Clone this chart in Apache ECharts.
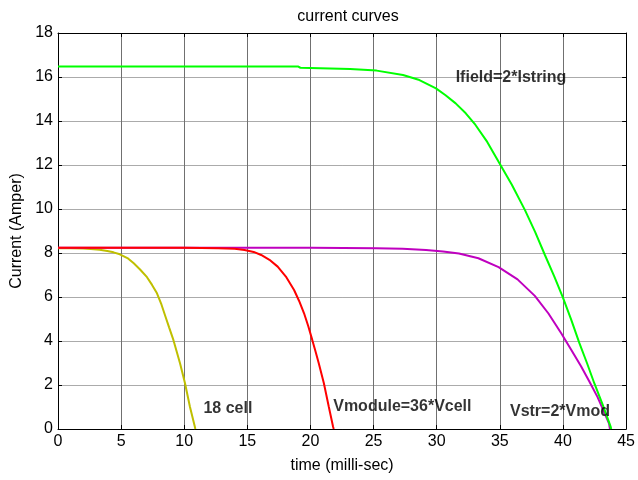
<!DOCTYPE html>
<html>
<head>
<meta charset="utf-8">
<script src="https://cdn.jsdelivr.net/npm/echarts@6/dist/echarts.min.js"></script>
<style>
html,body{margin:0;padding:0;background:#fff;}
#chart{width:638px;height:480px;}
</style>
</head>
<body>
<div id="chart"></div>
<script>
// ---- data ----
var xTicks = [0, 5, 10, 15, 20, 25, 30, 35, 40, 45];
var yTicks = [0, 2, 4, 6, 8, 10, 12, 14, 16, 18];

var cellX = [0, 1, 2, 2.6, 3.3, 3.9, 4.4, 4.9, 5.5, 6.0, 6.5, 7.05, 7.45, 7.84, 8.2, 8.49, 8.8, 9.14, 9.4, 9.67, 10.06, 10.45, 10.84, 10.88];
var cellY = [8.22, 8.22, 8.21, 8.18, 8.15, 8.09, 8.03, 7.94, 7.77, 7.53, 7.25, 6.9, 6.55, 6.17, 5.65, 5.15, 4.62, 4.05, 3.52, 2.98, 2.08, 1.01, 0.1, 0];

var moduleX = [0, 10, 12.7, 14.0, 14.78, 15.5, 16.09, 16.75, 17.4, 18.05, 18.7, 19.1, 19.49, 19.82, 20.14, 20.4, 20.66, 21.06, 21.45, 21.79, 21.84];
var moduleY = [8.24, 8.24, 8.22, 8.19, 8.14, 8.05, 7.91, 7.69, 7.38, 6.93, 6.32, 5.82, 5.26, 4.68, 4.05, 3.52, 2.98, 2.08, 1.01, 0.1, 0];

var stringX = [0, 20, 25.2, 27.3, 29.15, 30.5, 31.76, 33.3, 34.9, 36.4, 37.77, 38.85, 39.86, 40.65, 41.43, 42.1, 42.74, 43.2, 43.65, 43.72];
var stringY = [8.24, 8.24, 8.22, 8.19, 8.14, 8.07, 7.98, 7.76, 7.36, 6.8, 6.05, 5.25, 4.35, 3.6, 2.85, 2.15, 1.45, 0.85, 0.25, 0];

var fieldX = [0, 19, 19.2, 23.14, 25.24, 27.33, 28.63, 29.94, 30.7, 31.5, 32.3, 33.07, 34.0, 34.9, 35.95, 36.99, 37.8, 38.56, 39.3, 39.99, 40.65, 41.3, 41.9, 42.48, 43.15, 43.78, 43.82];
var fieldY = [16.48, 16.48, 16.42, 16.36, 16.29, 16.09, 15.86, 15.48, 15.17, 14.8, 14.35, 13.82, 13.05, 12.15, 11.1, 9.95, 8.95, 7.92, 6.95, 5.98, 4.97, 3.9, 3.0, 2.08, 1.1, 0.1, 0];

var labelTexts = ['18 cell', 'Vmodule=36*Vcell', 'Vstr=2*Vmod', 'Ifield=2*Istring'];
var labelX = [11.52, 21.8, 35.8, 31.5];
var labelY = [0.95, 1.01, 0.79, 15.97];

var titleText = 'current curves';
var xName = 'time (milli-sec)';
var yName = 'Current (Amper)';

function pairs(xs, ys) {
  var out = [];
  for (var i = 0; i < xs.length; i++) out.push([xs[i], ys[i]]);
  return out;
}

var FONT = 'Liberation Sans, Arial, sans-serif';

function lineSeries(name, xs, ys, color) {
  return {
    name: name, type: 'line', data: pairs(xs, ys),
    showSymbol: false, smooth: false,
    lineStyle: { color: color, width: 2 }, itemStyle: { color: color },
    animation: false, silent: true
  };
}

var textData = [];
for (var i = 0; i < labelTexts.length; i++) {
  textData.push({ value: [labelX[i], labelY[i]], name: labelTexts[i] });
}

var chart = echarts.init(document.getElementById('chart'), null, { renderer: 'canvas' });
chart.setOption({
  backgroundColor: '#ffffff',
  animation: false,
  title: {
    text: titleText, left: 343, top: 4, textAlign: 'center',
    textStyle: { fontFamily: FONT, fontSize: 16, fontWeight: 'normal', color: '#000' }
  },
  grid: { left: 58, top: 33, right: 6, bottom: 51, containLabel: false },
  xAxis: [{
    type: 'value', min: xTicks[0], max: xTicks[xTicks.length - 1], interval: 5,
    name: xName, nameLocation: 'middle', nameGap: 29,
    nameTextStyle: { fontFamily: FONT, fontSize: 16, color: '#000' },
    axisLine: { show: true, onZero: false, lineStyle: { color: '#000', width: 1 } },
    axisTick: { show: true, inside: true, length: 4, lineStyle: { color: '#000' } },
    axisLabel: { fontFamily: FONT, fontSize: 16, color: '#000', margin: 5 },
    splitLine: { show: true, lineStyle: { color: '#707070', width: 1 } }
  }, {
    type: 'value', position: 'top', min: 0, max: 45, interval: 5,
    axisLine: { show: true, onZero: false, lineStyle: { color: '#000', width: 1 } },
    axisTick: { show: true, inside: true, length: 4, lineStyle: { color: '#000' } },
    axisLabel: { show: false }, splitLine: { show: false }
  }],
  yAxis: [{
    type: 'value', min: yTicks[0], max: yTicks[yTicks.length - 1], interval: 2,
    name: yName, nameLocation: 'middle', nameGap: 33,
    nameTextStyle: { fontFamily: FONT, fontSize: 16, color: '#000' },
    axisLine: { show: true, onZero: false, lineStyle: { color: '#000', width: 1 } },
    axisTick: { show: true, inside: true, length: 4, lineStyle: { color: '#000' } },
    axisLabel: { fontFamily: FONT, fontSize: 16, color: '#000', margin: 5 },
    splitLine: { show: true, lineStyle: { color: '#ababab', width: 1 } }
  }, {
    type: 'value', position: 'right', min: 0, max: 18, interval: 2,
    axisLine: { show: true, onZero: false, lineStyle: { color: '#000', width: 1 } },
    axisTick: { show: true, inside: true, length: 4, lineStyle: { color: '#000' } },
    axisLabel: { show: false }, splitLine: { show: false }
  }],
  series: [
    lineSeries('18 cell', cellX, cellY, '#bfbf00'),
    lineSeries('Vstr', stringX, stringY, '#bf00bf'),
    lineSeries('Ifield', fieldX, fieldY, '#00ff00'),
    lineSeries('Vmodule', moduleX, moduleY, '#ff0000'),
    {
      type: 'scatter', data: textData, symbolSize: 0, silent: true, animation: false,
      label: {
        show: true, position: 'right', distance: 0,
        formatter: function (p) { return p.name; },
        fontFamily: FONT, fontSize: 16, fontWeight: 'bold', color: '#000'
      },
      z: 10
    }
  ]
});
</script>
</body>
</html>
